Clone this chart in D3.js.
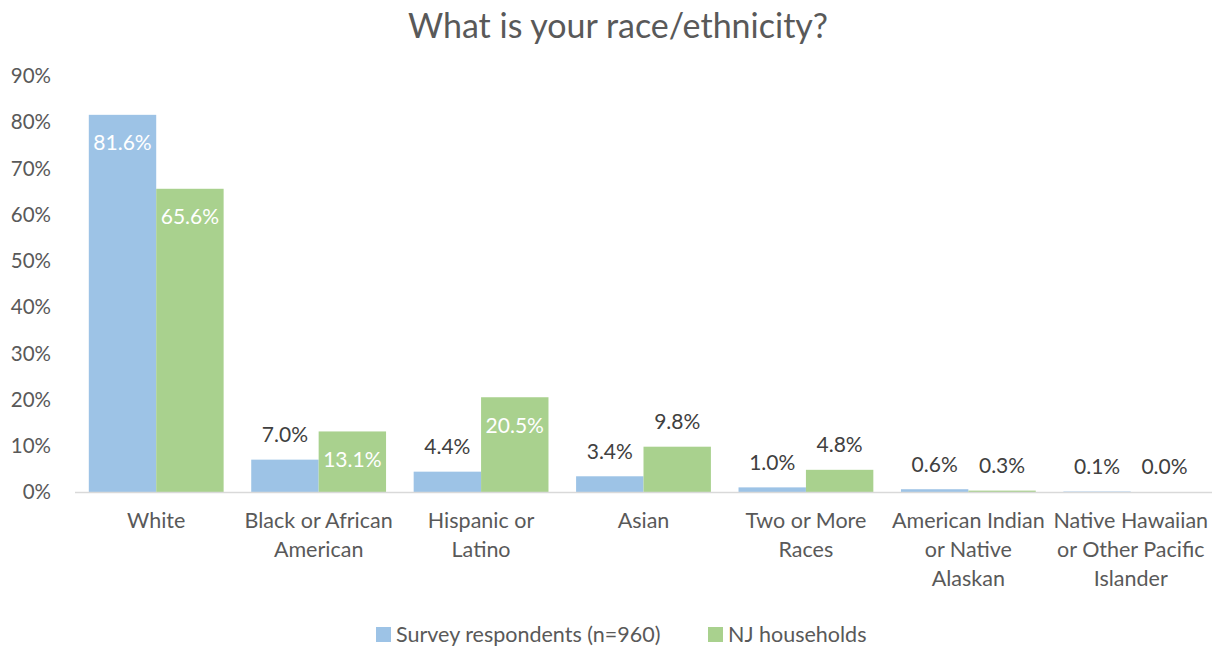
<!DOCTYPE html>
<html><head><meta charset="utf-8">
<script src="https://cdn.jsdelivr.net/npm/d3@7"></script>
<style>body{margin:0;background:#fff}svg{display:block}text{font-family:Lato,"Open Sans",sans-serif;fill:#595959}</style>
</head><body>
<script>
const categories = [["White"],["Black or African","American"],["Hispanic or","Latino"],["Asian"],["Two or More","Races"],["American Indian","or Native","Alaskan"],["Native Hawaiian","or Other Pacific","Islander"]];
const seriesNames = ["Survey respondents (n=960)","NJ households"];
const survey = [81.6,7.0,4.4,3.4,1.0,0.6,0.1];
const nj = [65.6,13.1,20.5,9.8,4.8,0.3,0.0];
const yTicks = [0,10,20,30,40,50,60,70,80,90];
const colors = ["#9DC3E6","#A9D18E"];

const W=1219,H=650;
const svg=d3.select("body").append("svg").attr("width",W).attr("height",H);
const x=d3.scaleBand().domain(d3.range(categories.length)).range([75,1212]).paddingInner(0.17).paddingOuter(0.085);
const xs=d3.scaleBand().domain([0,1]).range([0,x.bandwidth()]);
const y=d3.scaleLinear().domain([0,90]).range([492,76]);

svg.append("text").attr("x",618).attr("y",26).attr("dy","0.35em").attr("text-anchor","middle").style("font-size","34px").text("What is your race/ethnicity?");

svg.append("g").selectAll("text").data(yTicks).join("text")
 .attr("x",51).attr("y",d=>y(d)).attr("dy","0.35em").attr("text-anchor","end").style("font-size","20.5px").text(d=>d+"%");

const series=[survey,nj];
series.forEach((vals,si)=>{
  const g=svg.append("g");
  g.selectAll("rect").data(vals).join("rect")
   .attr("x",(d,i)=>x(i)+xs(si)).attr("width",xs.bandwidth()).attr("y",d=>y(d)).attr("height",d=>y(0)-y(d)).attr("fill",colors[si]);
  g.selectAll("text").data(vals).join("text")
   .attr("x",(d,i)=>x(i)+xs(si)+xs.bandwidth()/2)
   .attr("y",d=>d>10?y(d)+28:y(d)-25).attr("dy","0.35em").attr("text-anchor","middle")
   .style("font-size","21px").style("fill",d=>d>10?"#fff":"#404040").text(d=>d.toFixed(1)+"%");
});
svg.append("line").attr("x1",75).attr("x2",1212).attr("y1",y(0)+0.5).attr("y2",y(0)+0.5).attr("stroke","#d9d9d9").attr("stroke-width",1.5);

const cg=svg.append("g");
categories.forEach((lines,i)=>{
  const t=cg.append("text").attr("x",x(i)+x.bandwidth()/2).attr("y",523).attr("text-anchor","middle").style("font-size","21.5px");
  lines.forEach((l,j)=>t.append("tspan").attr("x",x(i)+x.bandwidth()/2).attr("dy",j?29:0).attr("dominant-baseline","middle").text(l));
});

const lg=svg.append("g");
const lx=[376,708];
seriesNames.forEach((n,i)=>{
  lg.append("rect").attr("x",lx[i]).attr("y",627).attr("width",15).attr("height",15).attr("fill",colors[i]);
  lg.append("text").attr("x",lx[i]+20).attr("y",634).attr("dy","0.35em").style("font-size","21.5px").text(n);
});
</script>
</body></html>
